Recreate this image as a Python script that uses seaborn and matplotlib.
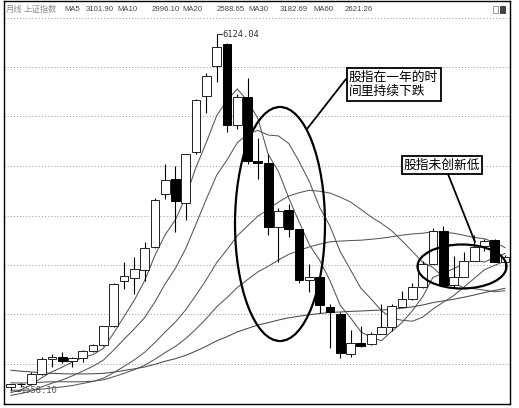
import matplotlib
matplotlib.use("Agg")
import matplotlib.pyplot as plt
import seaborn as sns
import pandas as pd
from matplotlib.patches import Ellipse, Rectangle
from matplotlib.lines import Line2D

# Shanghai Composite, monthly bars Feb 2006 - Feb 2010
months = ["2006-02", "2006-03", "2006-04", "2006-05", "2006-06", "2006-07", "2006-08",
          "2006-09", "2006-10", "2006-11", "2006-12",
          "2007-01", "2007-02", "2007-03", "2007-04", "2007-05", "2007-06", "2007-07",
          "2007-08", "2007-09", "2007-10", "2007-11", "2007-12",
          "2008-01", "2008-02", "2008-03", "2008-04", "2008-05", "2008-06", "2008-07",
          "2008-08", "2008-09", "2008-10", "2008-11", "2008-12",
          "2009-01", "2009-02", "2009-03", "2009-04", "2009-05", "2009-06", "2009-07",
          "2009-08", "2009-09", "2009-10", "2009-11", "2009-12",
          "2010-01", "2010-02"]

opens = [1258, 1299, 1298, 1440, 1641, 1672, 1612, 1658, 1752, 1838, 2099,
         2728, 2770, 2870, 3197, 3920, 4125, 3800, 4500, 5270, 5683, 5995, 4868,
         5265, 4383, 4348, 3472, 3700, 3433, 2730, 2775, 2360, 2266, 1719, 1866,
         1849, 1993, 2082, 2366, 2478, 2640, 2960, 3412, 2670, 2779, 3000, 3208,
         3289, 2983]
highs = [1307, 1310, 1467, 1680, 1715, 1745, 1680, 1770, 1850, 2100, 2698,
         2984, 3049, 3257, 3861, 4335, 4312, 4480, 5230, 5590, 6124.04, 6005, 5303,
         5522, 4695, 4472, 3730, 3786, 3445, 2952, 2793, 2410, 2300, 2050, 2100,
         2012, 2402, 2407, 2579, 2688, 2998, 3454, 3478, 3068, 3123, 3361, 3296,
         3306, 3075]
lows = [1205, 1260, 1293, 1430, 1540, 1590, 1541, 1605, 1740, 1830, 2090,
        2611, 2541, 2723, 3180, 3850, 3404, 3563, 4470, 5039, 5462, 4778, 4812,
        4330, 4123, 3356, 2990, 3333, 2693, 2566, 2284, 1802, 1664.93, 1678, 1814,
        1844, 1990, 2037, 2360, 2461, 2632, 2960, 2650, 2639, 2779, 2995, 3140,
        2986, 2890]
closes = [1299.0, 1298.3, 1440.2, 1641.3, 1672.2, 1612.7, 1658.6, 1752.4, 1838.0, 2099.3, 2675.5,
          2786.3, 2881.1, 3184.0, 3841.3, 4109.7, 3820.7, 4471.0, 5218.8, 5552.3, 5954.8, 4871.8, 5261.6,
          4383.4, 4348.5, 3472.7, 3693.1, 3433.4, 2736.1, 2775.7, 2397.4, 2293.8, 1728.8, 1871.2, 1820.8,
          1990.7, 2082.9, 2373.2, 2477.6, 2632.9, 2959.4, 3412.1, 2667.7, 2779.4, 2995.9, 3195.3, 3277.1,
          2989.3, 3051.9]

ma5 = [1182.1, 1223.2, 1291.3, 1387.4, 1470.2, 1532.9, 1605.0, 1667.4, 1706.8, 1792.2, 2004.8,
       2230.3, 2456.0, 2725.2, 3073.6, 3360.5, 3567.4, 3885.3, 4292.3, 4634.5, 5003.5, 5213.7, 5371.9,
       5204.8, 4964.0, 4467.6, 4231.9, 3866.2, 3536.8, 3222.2, 3007.1, 2727.3, 2386.4, 2213.4, 2022.4,
       1941.1, 1898.9, 2027.8, 2149.0, 2311.5, 2505.2, 2771.0, 2829.9, 2890.3, 2962.9, 3010.1, 2983.1,
       3047.4, 3101.9]
ma10 = [1145.3, 1169.1, 1205.0, 1260.9, 1311.8, 1357.5, 1414.1, 1479.4, 1547.1, 1631.2, 1768.9,
        1917.7, 2061.7, 2216.0, 2432.9, 2682.6, 2898.8, 3170.7, 3508.8, 3854.1, 4182.0, 4390.6, 4628.6,
        4748.5, 4799.3, 4735.6, 4722.8, 4619.0, 4370.8, 4093.1, 3737.4, 3479.6, 3126.3, 2875.1, 2622.3,
        2474.1, 2313.1, 2207.1, 2181.2, 2166.9, 2223.1, 2335.0, 2428.9, 2519.7, 2637.2, 2757.6, 2877.1,
        2938.7, 2996.1]
ma20 = [1217.2, 1212.8, 1217.7, 1230.0, 1247.5, 1261.1, 1280.7, 1308.8, 1335.4, 1381.3, 1457.1,
        1543.4, 1633.4, 1738.4, 1872.4, 2020.1, 2156.5, 2325.0, 2527.9, 2742.6, 2975.4, 3154.1, 3345.2,
        3482.3, 3616.1, 3709.1, 3810.8, 3894.9, 3939.8, 3973.6, 3959.7, 3935.1, 3877.4, 3811.8, 3710.8,
        3604.8, 3517.9, 3413.1, 3276.0, 3130.0, 2980.3, 2907.3, 2777.6, 2697.4, 2629.7, 2615.9, 2595.1,
        2572.9, 2588.7]
ma30 = [1317.1, 1314.8, 1317.8, 1326.0, 1331.8, 1332.5, 1332.0, 1332.4, 1340.4, 1358.6, 1401.1,
        1447.8, 1499.1, 1558.6, 1642.7, 1735.0, 1820.1, 1929.4, 2059.8, 2205.5, 2365.4, 2492.4, 2631.8,
        2741.8, 2848.0, 2925.2, 3011.9, 3089.7, 3142.2, 3192.8, 3229.4, 3262.6, 3272.2, 3279.9, 3284.8,
        3297.4, 3311.6, 3332.3, 3353.6, 3371.4, 3380.8, 3401.7, 3394.6, 3381.1, 3352.9, 3322.4, 3304.3,
        3254.9, 3182.7]
ma60 = [1491.6, 1478.0, 1466.7, 1457.2, 1448.1, 1443.0, 1440.1, 1440.2, 1442.7, 1448.4, 1465.6,
        1487.2, 1509.8, 1536.1, 1572.4, 1615.6, 1650.4, 1697.4, 1756.6, 1822.8, 1896.9, 1954.3, 2019.4,
        2067.4, 2114.7, 2147.4, 2183.6, 2214.6, 2235.4, 2257.1, 2273.3, 2288.7, 2295.0, 2302.9, 2308.3,
        2315.0, 2321.8, 2332.3, 2347.0, 2365.0, 2391.0, 2424.7, 2446.8, 2469.9, 2497.8, 2528.7, 2562.2,
        2592.2, 2621.3]

grid_levels = [1577, 2260, 2943, 3625, 4308, 4991, 5674, 6356]

header_items = [("月线", 6), ("上证指数", 24), ("MA5", 64), ("3101.90", 86),
                ("MA10", 117), ("2996.10", 152), ("MA20", 182), ("2588.65", 217),
                ("MA30", 248), ("3182.69", 280), ("MA60", 313), ("2621.26", 345)]

high_label = "6124.04"
low_label = "1558.10"
note_fall = ["股指在一年的时", "间里持续下跌"]
note_hold = "股指未创新低"

# ---------------------------------------------------------------- figure
W, H = 519, 408
sns.set_style("white")
plt.rcParams["font.family"] = ["Noto Sans CJK SC", "DejaVu Sans"]

fig = plt.figure(figsize=(W / 100, H / 100), dpi=100)
ax = fig.add_axes([4 / W, 4 / H, 506 / W, 403 / H])


def fpx(xp, yp):
    """pixel position (from top-left) -> figure fraction"""
    return xp / W, 1 - yp / H


bars = list(range(len(months)))
ax.set_xlim(-0.65, 48.48)
ax.set_ylim(1025.4, 6584.0)

# dotted horizontal grid
for g in grid_levels:
    ax.axhline(g, color="#a8a8a8", lw=0.7, ls=(0, (1.2, 2.0)), zorder=1)

# moving averages
ma_df = pd.DataFrame({"bar": bars, "MA5": ma5, "MA10": ma10, "MA20": ma20,
                      "MA30": ma30, "MA60": ma60})
ma_long = ma_df.melt(id_vars="bar", var_name="line", value_name="value")
sns.lineplot(data=ma_long, x="bar", y="value", hue="line",
             palette=["#555555", "#555555", "#5a5a5a", "#555555", "#4a4a4a"],
             lw=0.75, legend=False, estimator=None, sort=False, ax=ax, zorder=2)

# candlesticks
body_w = 0.85
for xi, o, h, l, c in zip(bars, opens, highs, lows, closes):
    top, bot = max(o, c), min(o, c)
    ax.vlines(xi, top, h, color="black", lw=0.8, zorder=3)
    ax.vlines(xi, l, bot, color="black", lw=0.8, zorder=3)
    if c >= o:
        ax.bar(xi, top - bot, bottom=bot, width=body_w, color="white",
               edgecolor="#222222", linewidth=0.7, zorder=4)
    else:
        ax.bar(xi, top - bot, bottom=bot, width=body_w, color="black",
               edgecolor="black", linewidth=0.7, zorder=4)

# extreme price markers
hi_i = highs.index(max(highs))
ax.plot([hi_i, hi_i + 0.5], [highs[hi_i], highs[hi_i]], color="#333333", lw=0.8, zorder=5)
ax.text(hi_i + 0.52, highs[hi_i], high_label, fontsize=6.3, color="#333333",
        family="DejaVu Sans Mono", va="center", ha="left", zorder=5)
lo_i = 0
ax.plot([lo_i + 0.3, lo_i + 0.9], [lows[lo_i], lows[lo_i]], color="#555555", lw=0.8, zorder=5)
ax.text(lo_i + 0.95, lows[lo_i], low_label, fontsize=6.3, color="#555555",
        family="DejaVu Sans Mono", va="center", ha="left", zorder=5)

ax.set_xticks([])
ax.set_yticks([])
ax.set_xlabel("")
ax.set_ylabel("")
for s in ax.spines.values():
    s.set_color("black")
    s.set_linewidth(1.0)

# header row
for txt, xp in header_items:
    cjk = any(ord(ch) > 0x2000 for ch in txt)
    fig.text(*fpx(xp, 9.5), txt, fontsize=6.0 if cjk else 5.6,
             family=["Noto Sans CJK SC"] if cjk else ["Liberation Sans"],
             color="#8a8a8a" if cjk else "#444444", va="center", ha="left")

# small tool icons at the top right
fig.add_artist(Rectangle(fpx(493, 13), 5 / W, 7 / H, transform=fig.transFigure,
                         facecolor="none", edgecolor="#999999", lw=0.7))
fig.add_artist(Rectangle(fpx(500, 13), 5 / W, 7 / H, transform=fig.transFigure,
                         facecolor="#444444", edgecolor="#444444", lw=0.7))

# annotations: ellipses, callout lines and boxes
fig.add_artist(Ellipse(fpx(280, 224), 90 / W, 234 / H, transform=fig.transFigure,
                       facecolor="none", edgecolor="black", lw=1.6, zorder=6))
fig.add_artist(Ellipse(fpx(462, 266.5), 89 / W, 44 / H, transform=fig.transFigure,
                       facecolor="none", edgecolor="black", lw=1.6, zorder=6))

(x1, y1), (x2, y2) = fpx(307, 129), fpx(346, 79)
fig.add_artist(Line2D([x1, x2], [y1, y2], transform=fig.transFigure, color="black", lw=1.3))
(x1, y1), (x2, y2) = fpx(448, 174), fpx(475, 242)
fig.add_artist(Line2D([x1, x2], [y1, y2], transform=fig.transFigure, color="black", lw=1.3))

fig.add_artist(Rectangle(fpx(347, 101), 94 / W, 33 / H, transform=fig.transFigure,
                         facecolor="white", edgecolor="black", lw=1.3, zorder=7))
fig.text(*fpx(348.5, 77.5), note_fall[0], fontsize=9.2, color="black", va="center",
         ha="left", zorder=8)
fig.text(*fpx(348.5, 91.5), note_fall[1], fontsize=9.2, color="black", va="center",
         ha="left", zorder=8)

fig.add_artist(Rectangle(fpx(402, 174), 80 / W, 18 / H, transform=fig.transFigure,
                         facecolor="white", edgecolor="black", lw=1.3, zorder=7))
fig.text(*fpx(403.5, 165), note_hold, fontsize=9.2, color="black", va="center",
         ha="left", zorder=8)

fig.savefig("out.png", dpi=100, facecolor="white")
